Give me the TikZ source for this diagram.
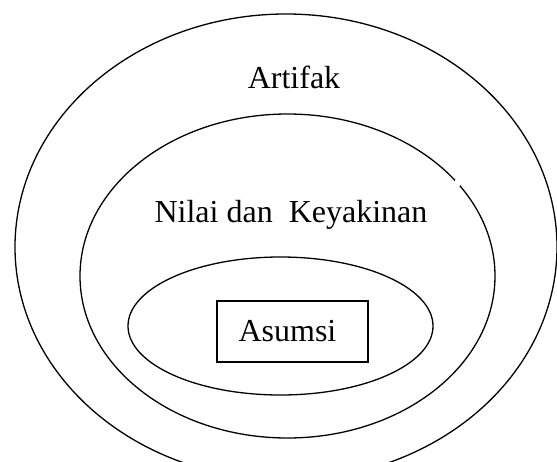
\documentclass[tikz,border=0pt]{standalone}
\usepackage{fontspec}
\setmainfont{Liberation Serif}
\begin{document}
\begin{tikzpicture}[x=1pt,y=-1pt,
  ring/.style={draw=black,line width=1.3pt},
  lbl/.style={font=\fontsize{32}{36}\selectfont,inner sep=0pt},
  boxed/.style={draw=black,line width=1.3pt,minimum width=151pt,minimum height=61pt,inner sep=0pt,font=\fontsize{32}{36}\selectfont}]
\useasboundingbox (0,0) rectangle (557,461);
\draw[ring] (286,247) ellipse [x radius=271, y radius=233];
\draw[ring] (287.5,276) ellipse [x radius=207.5, y radius=162];
\fill[white] (455,180) rectangle (460,186);
\draw[ring] (280.5,326) ellipse [x radius=152.5, y radius=69];
\node[lbl] (art) at (294,77) {Artifak};
\node[lbl] (nil) at (291,215) {Nilai dan\ \ Keyakinan};
\node[boxed] (asu) at (292.5,331.5) {Asumsi\hspace*{10pt}};
\end{tikzpicture}
\end{document}
